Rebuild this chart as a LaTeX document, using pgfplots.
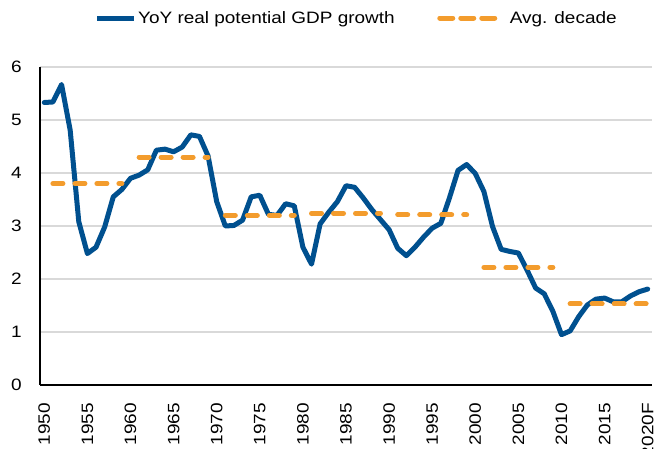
\documentclass[border=0pt]{standalone}
\usepackage{fontspec}
\setmainfont{Liberation Sans}[FakeStretch=1.15]
\usepackage{pgfplots}
\pgfplotsset{compat=1.18}
\definecolor{gdpblue}{RGB}{0,80,143}
\definecolor{avgorange}{RGB}{243,156,45}
\pgfplotsset{
  blueleg/.style={legend image code/.code={\draw[##1, line cap=butt] (-2pt,0pt) -- (35pt,0pt);}},
  orangeleg/.style={legend image code/.code={\draw[##1, dash pattern=on 13pt off 8pt] (2pt,0pt) -- (58pt,0pt); \path (68pt,0pt);}},
}
\begin{document}
\begin{tikzpicture}
\begin{axis}[
  name=ax,
  width=612pt, height=318pt, scale only axis,
  xmin=1949.5, xmax=2020.5,
  ymin=0, ymax=6,
  axis lines=left,
  axis line style={-, line width=1.3pt, black},
  xtick={1950,1955,...,2020},
  xticklabels={1950,1955,1960,1965,1970,1975,1980,1985,1990,1995,2000,2005,2010,2015,2020F},
  ytick={0,1,...,6},
  major tick length=0pt,
  ymajorgrids,
  grid style={line width=1.1pt, color=black!15},
  /pgf/number format/assume math mode=true,
  tick label style={font=\fontsize{16.5}{19}\selectfont},
  xticklabel style={rotate=90, anchor=east, inner sep=0pt},
  xticklabel shift=18pt,
  yticklabel style={anchor=east, inner sep=0pt},
  yticklabel shift=18pt,
  legend columns=2,
  legend style={at={(0.517,1.154)}, anchor=center, draw=none, fill=none,
    font=\fontsize{16.5}{19}\selectfont,
    /tikz/every even column/.append style={column sep=41pt},
    nodes={inner sep=1.5pt}},
  unbounded coords=jump,
  clip=false,
]
\addplot[color=gdpblue, line width=5pt, line join=round, line cap=round, blueleg]
coordinates {
(1950,5.33) (1951,5.34) (1952,5.67) (1953,4.81) (1954,3.08) (1955,2.48)
(1956,2.60) (1957,2.98) (1958,3.55) (1959,3.69) (1960,3.90) (1961,3.96)
(1962,4.06) (1963,4.43) (1964,4.45) (1965,4.40) (1966,4.49) (1967,4.72)
(1968,4.69) (1969,4.32) (1970,3.46) (1971,3.00) (1972,3.01) (1973,3.11)
(1974,3.55) (1975,3.58) (1976,3.22) (1977,3.20) (1978,3.42) (1979,3.38)
(1980,2.60) (1981,2.28) (1982,3.04) (1983,3.26) (1984,3.46) (1985,3.76)
(1986,3.73) (1987,3.53) (1988,3.31) (1989,3.12) (1990,2.93) (1991,2.58)
(1992,2.44) (1993,2.60) (1994,2.79) (1995,2.96) (1996,3.05) (1997,3.53)
(1998,4.05) (1999,4.16) (2000,3.99) (2001,3.65) (2002,2.99) (2003,2.56)
(2004,2.52) (2005,2.49) (2006,2.17) (2007,1.83) (2008,1.72) (2009,1.39)
(2010,0.95) (2011,1.02) (2012,1.29) (2013,1.51) (2014,1.62) (2015,1.64)
(2016,1.57) (2017,1.57) (2018,1.68) (2019,1.76) (2020,1.81)
};
\addlegendentry{YoY real potential GDP growth}
\addplot[color=avgorange, line width=5pt, line cap=round,
  dash pattern=on 10pt off 12pt, orangeleg]
coordinates {
(1951,3.80) (1959,3.80) (1960,nan)
(1961,4.30) (1969,4.30) (1970,nan)
(1971,3.20) (1979,3.20) (1980,nan)
(1981,3.24) (1989,3.24) (1990,nan)
(1991,3.21) (1999,3.21) (2000,nan)
(2001,2.22) (2009,2.22) (2010,nan)
(2011,1.53) (2020,1.53)
};
\addlegendentry{Avg. decade}
\end{axis}
\pgfresetboundingbox
\path ([xshift=-40pt,yshift=-64pt]ax.south west) rectangle ([xshift=2pt,yshift=67pt]ax.north east);
\end{tikzpicture}
\end{document}
